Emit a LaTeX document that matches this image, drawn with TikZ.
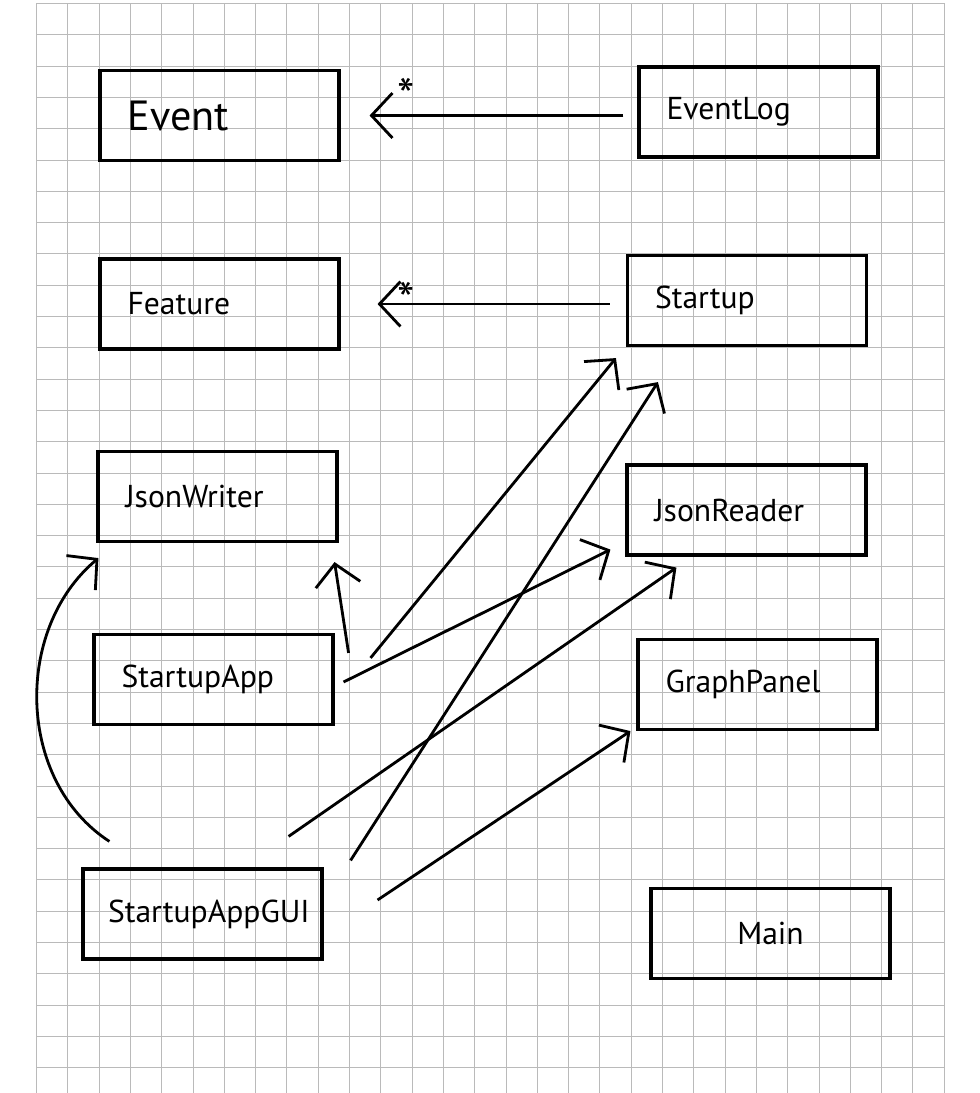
\documentclass[tikz,border=0pt]{standalone}
\usepackage{fontspec}
\setmainfont{PT Sans}
\usetikzlibrary{arrows.meta,calc}
\hyphenpenalty=10000

\tikzset{
  classbox/.style={draw, line width=1.8pt, minimum height=1.8cm,
    text width=3.68cm, inner xsep=0.55cm, align=left,
    font=\fontsize{18}{22}\selectfont},
  assoc/.style={line width=1.6pt,
    -{Straight Barb[length=0.42cm,width=0.9cm]}},
  mult/.style={font=\fontsize{28}{30}\selectfont, inner sep=0pt},
  gridline/.style={black!27, line width=0.55pt}
}

\begin{document}
\begin{tikzpicture}[x=0.02cm,y=-0.02cm]
\useasboundingbox (0,0) rectangle (980,1093);
% grid paper
\foreach \k in {0,...,29}
  \draw[gridline] ({round(36+31.3*\k)+0.5},3) -- ({round(36+31.3*\k)+0.5},1093);
\foreach \k in {0,...,34}
  \draw[gridline] (36,{round(3+31.3*\k)+0.5}) -- (944,{round(3+31.3*\k)+0.5});

% classes
\node[classbox, font=\fontsize{24}{28}\selectfont] (event) at (219.5,115.5) {Event};
\node[classbox] (eventlog)   at (758.5,112)   {EventLog};
\node[classbox] (feature)    at (219.5,304)   {Feature};
\node[classbox] (startup)    at (747,300.5)   {Startup};
\node[classbox] (jsonwriter) at (217.5,496.5) {JsonWriter};
\node[classbox] (jsonreader) at (746.5,510)   {JsonReader};
\node[classbox] (app)        at (213.5,679.5) {StartupApp};
\node[classbox] (graphpanel) at (757.5,684.5) {GraphPanel};
\node[classbox, inner xsep=0.5cm, text width=3.78cm] (gui) at (202.5,914) {StartupAppGUI};
\node[classbox, align=center] (main) at (770.5,933.5) {Main};

% associations
\draw[assoc, shorten <=0.28cm, shorten >=0.58cm] (event.east -| eventlog.west) -- (event.east)
  node[mult, pos=0.78, above=0.02cm] {*};
\draw[assoc, shorten <=0.32cm, shorten >=0.74cm] (feature.east -| startup.west) -- (feature.east)
  node[mult, pos=0.77, above=-0.3cm] {*};

\draw[assoc] ([shift={(14,20)}]app.north east) -- ([shift={(-4,19)}]jsonwriter.south east);
\draw[assoc] ([shift={(36,25)}]app.north east) -- ([shift={(-10,11)}]startup.south west);
\draw[assoc] ([shift={(9,2.5)}]app.east) -- ([shift={(-15,-7)}]jsonreader.south west);

\draw[assoc] ([shift={(28,-26)}]gui.north west) to[out=147,in=220] ([shift={(2,15)}]jsonwriter.south west);
\draw[assoc] ([shift={(-35,-31)}]gui.north east) -- ([shift={(51,11)}]jsonreader.south west);
\draw[assoc] ([shift={(27,-7)}]gui.north east) -- ([shift={(32,35)}]startup.south west);
\draw[assoc] ([shift={(54,-14)}]gui.east) -- ([shift={(-6,0)}]graphpanel.south west);

\end{tikzpicture}
\end{document}
